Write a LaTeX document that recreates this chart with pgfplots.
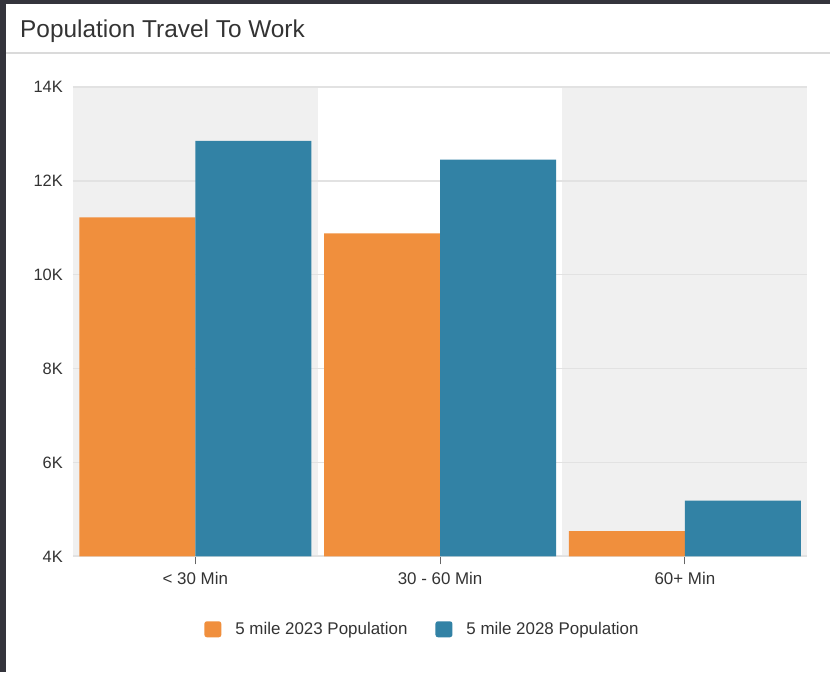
\documentclass[border=0pt]{standalone}
\usepackage{fontspec}
\setmainfont{Liberation Sans}
\usepackage{pgfplots}
\pgfplotsset{compat=1.18}

\definecolor{framec}{HTML}{34343C}
\definecolor{sepc}{HTML}{DADADA}
\definecolor{txt}{HTML}{333333}
\definecolor{bandc}{HTML}{F0F0F0}
\definecolor{gridc}{HTML}{E2E2E2}
\definecolor{tickc}{HTML}{666666}
\definecolor{pop23}{HTML}{F08F3D}
\definecolor{pop28}{HTML}{3282A5}

\pgfplotsset{
  plotbox/.style={at={(73bp,116bp)}, anchor=south west,
    scale only axis, width=735bp, height=470bp,
    xmin=-0.5, xmax=2.5, ymin=4000, ymax=14000},
  sq legend/.style={legend image code/.code={%
      \fill[##1, draw=none, rounded corners=2.5bp] (0bp,-8bp) rectangle (17bp,8bp);}},
}

\begin{document}
\begin{tikzpicture}
\fill[framec] (0,0) rectangle (831bp,673bp);
\fill[white] (6bp,0) rectangle (831bp,669bp);
\draw[sepc, line width=1.5bp] (6bp,620bp) -- (831bp,620bp);
\node[anchor=base west, inner sep=0pt, text=txt, font=\fontsize{24.5}{28}\selectfont]
  at (20bp,635bp) {Population Travel To Work};

% alternating category bands behind the grid
\begin{axis}[plotbox, hide axis]
  \fill[bandc] (axis cs:-0.5,4000) rectangle (axis cs:0.5,14000);
  \fill[bandc] (axis cs:1.5,4000) rectangle (axis cs:2.5,14000);
\end{axis}

\begin{axis}[
    plotbox,
    ybar=0pt, bar width=0.474,
    xtick={0,1,2},
    xticklabels={{< 30 Min},{30 - 60 Min},{60+ Min}},
    ytick={4000,6000,8000,10000,12000,14000},
    yticklabels={4K,6K,8K,10K,12K,14K},
    scaled y ticks=false,
    axis x line*=bottom, axis y line*=left,
    x axis line style={draw=gridc, line width=2bp},
    y axis line style={draw=none},
    tick align=outside,
    major tick length=8bp,
    xtick style={draw=tickc, line width=1bp},
    ytick style={draw=none},
    ymajorgrids,
    grid style={draw=gridc, line width=1.5bp},
    ticklabel style={text=txt},
    yticklabel style={anchor=east, inner sep=0pt, xshift=-2bp,
      font=\fontsize{16.5}{19}\selectfont},
    xticklabel style={anchor=base, inner sep=0pt, yshift=-20bp,
      font=\fontsize{17}{20}\selectfont},
    legend style={draw=none, fill=none, at={(0.476,-0.155)}, anchor=center,
      font=\fontsize{17}{20}\selectfont, text=txt,
      /tikz/every odd column/.append style={column sep=12bp},
      /tikz/every even column/.append style={column sep=26bp}},
    legend columns=2,
  ]
  \addplot[fill=pop23, draw=none, sq legend]
    coordinates {(0,11220) (1,10880) (2,4540)};
  \addplot[fill=pop28, draw=none, sq legend]
    coordinates {(0,12850) (1,12450) (2,5190)};

  \legend{5 mile 2023 Population, 5 mile 2028 Population}
\end{axis}
\end{tikzpicture}
\end{document}
